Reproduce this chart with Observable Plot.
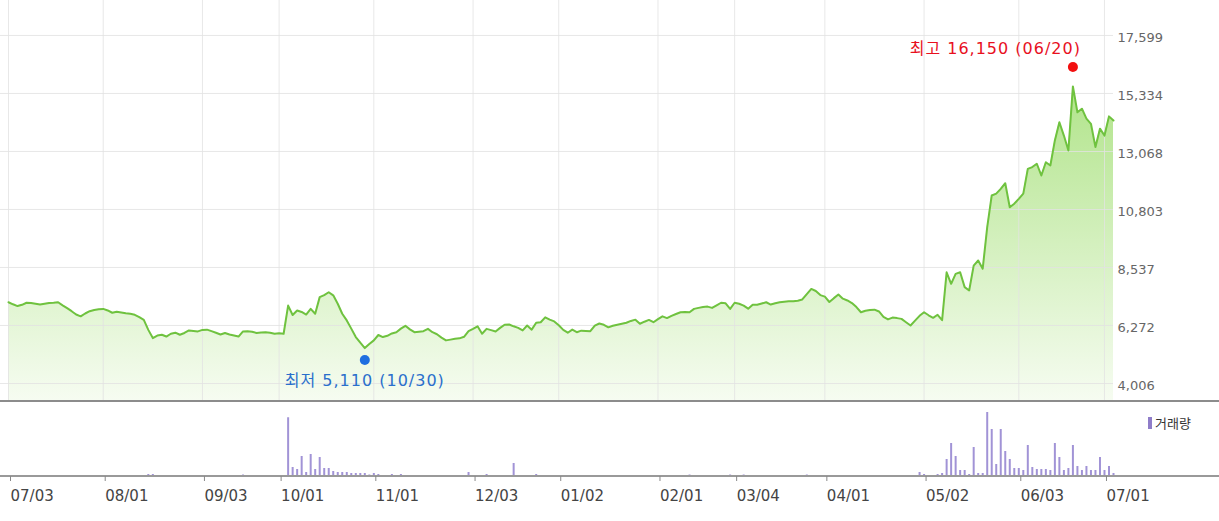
<!DOCTYPE html>
<html>
<head>
<meta charset="utf-8">
<script src="https://cdn.jsdelivr.net/npm/d3@7"></script>
<script src="https://cdn.jsdelivr.net/npm/@observablehq/plot@0.6"></script>
<style>
  body { margin: 0; background: #fff; }
  #wrap { position: relative; width: 1219px; height: 521px; overflow: hidden; background: #fff; }
  #price { position: absolute; left: 0; top: 0; }
  #vol { position: absolute; left: 0; top: 400px; }
  #legend { position: absolute; left: 1148px; top: 416px; font: 13px "Noto Sans CJK KR", sans-serif; color: #333; line-height: 14px; }
  #legend span { display: inline-block; width: 4px; height: 12px; background: #8f7dc9; vertical-align: -1px; margin-right: 3px; }
  #price g[aria-label="text"] text { letter-spacing: 1px; }
</style>
</head>
<body>
<div id="wrap"><div id="price"></div><div id="vol"></div><div id="legend"><span></span>거래량</div></div>
<script>
// x tick positions (trading-day index) and their labels
const tickIdx = [0, 21, 43, 60, 81, 103, 122, 144, 161, 181, 203, 224, 243];
const tickLabels = ["07/03","08/01","09/03","10/01","11/01","12/03","01/02","02/01","03/04","04/01","05/02","06/03","07/01"];
// y-axis tick values
const yTicks = [4006, 6272, 8537, 10803, 13068, 15334, 17599];

// daily closing prices (one per trading day)
const closes = [
  7180,7100,7030,7080,7160,7150,7120,7090,7120,7150,
  7160,7180,7060,6950,6830,6700,6630,6740,6830,6880,
  6910,6920,6860,6770,6810,6780,6750,6730,6690,6600,
  6490,6100,5780,5880,5910,5840,5950,5990,5910,5980,
  6080,6060,6040,6100,6110,6050,5990,5920,5980,5920,
  5880,5840,6040,6050,6030,5980,6000,6010,5990,5950,
  5970,5950,7050,6680,6860,6800,6700,6920,6730,7380,
  7460,7570,7450,7120,6730,6470,6150,5820,5600,5390,
  5550,5690,5900,5820,5870,5960,6010,6150,6260,6120,
  6010,6030,6050,6140,6010,5930,5800,5690,5720,5750,
  5770,5830,6050,6140,6240,5950,6140,6090,6040,6180,
  6300,6310,6240,6180,6080,6270,6110,6380,6400,6590,
  6500,6430,6280,6100,5990,6110,6010,6070,6060,6050,
  6270,6350,6300,6200,6260,6300,6340,6380,6450,6500,
  6340,6420,6490,6400,6520,6630,6560,6650,6720,6790,
  6800,6790,6920,6960,6990,7010,6960,7060,7160,7140,
  6920,7160,7120,7050,6930,7080,7080,7130,7180,7090,
  7140,7180,7200,7220,7220,7240,7290,7500,7700,7620,
  7460,7400,7190,7340,7480,7320,7250,7150,6990,6790,
  6850,6880,6890,6820,6610,6510,6580,6560,6530,6400,
  6270,6460,6650,6790,6670,6570,6690,6480,8350,7900,
  8290,8350,7770,7640,8610,8810,8490,10110,11350,11420,
  11610,11830,10890,11030,11220,11420,12390,12460,12590,12130,
  12650,12520,13500,14210,13690,13110,15610,14600,14740,14350,
  14150,13240,13960,13690,14440,14280
];

// daily volume (thousand shares)
const volumes = [
  0,0,0,0,0,0,0,0,0,0,
  0,0,0,0,0,0,0,0,0,0,
  0,0,0,0,0,0,0,0,0,0,
  0,40,40,0,0,0,0,0,0,0,
  0,0,0,0,0,0,0,0,0,0,
  0,0,30,0,0,0,0,0,0,0,
  0,0,1175,180,140,400,80,440,140,380,
  160,160,100,80,80,80,60,60,60,60,
  30,60,40,0,0,40,0,40,0,0,
  0,0,0,0,0,0,0,0,0,0,
  0,0,80,0,0,0,40,0,0,0,
  0,0,260,0,0,0,0,40,0,0,
  0,0,0,0,0,0,0,0,0,0,
  0,0,0,0,0,0,0,0,0,0,
  0,0,0,0,0,0,0,0,0,0,
  0,30,0,0,0,0,0,0,0,0,
  30,0,0,30,0,0,0,0,0,0,
  0,0,0,0,0,0,0,30,0,0,
  0,0,0,0,0,0,0,0,0,0,
  0,0,0,0,0,0,0,0,0,0,
  0,0,80,40,0,0,40,60,340,660,
  400,120,120,40,580,60,60,1280,940,240,
  940,500,340,160,160,120,620,180,140,140,
  140,120,660,380,120,160,620,200,120,200,
  120,120,380,120,200,60
];

// extremes
const highPt = [{i: 236, v: 16150, label: "최고 16,150 (06/20)"}];
const lowPt  = [{i: 79,  v: 5110,  label: "최저 5,110 (10/30)"}];

const priceData = closes.map((v, i) => ({i, v}));
const volData = volumes.map((vol, i) => ({i, vol}));

const X_DOMAIN = [-1.774, 245];
const Y_DOMAIN = [3342, 18966];
const NS = "http://www.w3.org/2000/svg";

const gradientDefs = () => {
  const defs = document.createElementNS(NS, "defs");
  defs.innerHTML = `<linearGradient id="pg" gradientUnits="userSpaceOnUse" x1="0" y1="35" x2="0" y2="400">
    <stop offset="0" stop-color="#a6e07a"/><stop offset="1" stop-color="#f6fcf1"/></linearGradient>`;
  return defs;
};

const fontStack = "'DejaVu Sans', 'Noto Sans CJK KR', sans-serif";

const priceChart = Plot.plot({
  width: 1219, height: 400,
  marginLeft: 0, marginRight: 106, marginTop: 0, marginBottom: 0,
  x: {domain: X_DOMAIN, axis: null},
  y: {domain: Y_DOMAIN, axis: null},
  style: {fontFamily: fontStack, fontSize: "13px", color: "#666", background: "transparent", overflow: "visible"},
  marks: [
    gradientDefs,
    Plot.areaY(priceData, {x: "i", y1: Y_DOMAIN[0], y2: "v", fill: "url(#pg)"}),
    Plot.ruleY(yTicks, {stroke: "#e2e2e2", strokeOpacity: 0.8}),
    Plot.ruleX(tickIdx, {stroke: "#e2e2e2", strokeOpacity: 0.8}),
    Plot.lineY(priceData, {x: "i", y: "v", stroke: "#6fc23f", strokeWidth: 2}),
    Plot.axisY(yTicks, {anchor: "right", label: null, tickSize: 0, tickPadding: 4, tickFormat: d3.format(","), fontSize: 13, fill: "#666", dy: 2}),
    Plot.dot(highPt, {x: "i", y: "v", dy: -5.6, r: 5, fill: "#f20f0f", stroke: "none"}),
    Plot.text(highPt, {x: "i", y: "v", text: "label", dy: -24, dx: 8, textAnchor: "end", fill: "#e8101e", fontSize: 16}),
    Plot.dot(lowPt, {x: "i", y: "v", dy: 4.8, r: 5, fill: "#1e6ee0", stroke: "none"}),
    Plot.text(lowPt, {x: "i", y: "v", text: "label", dy: 26, textAnchor: "middle", fill: "#2a6fcc", fontSize: 16})
  ]
});
document.getElementById("price").appendChild(priceChart);

const fullWidthLines = (index, scales, values, dims) => {
  const g = document.createElementNS(NS, "g");
  const yb = scales.y(0);
  g.innerHTML = `<line x1="0" x2="${dims.width}" y1="1" y2="1" stroke="#8c8c8c" stroke-width="2"/>
    <line x1="0" x2="${dims.width}" y1="${yb}" y2="${yb}" stroke="#999" stroke-width="2"/>`;
  return g;
};

const volChart = Plot.plot({
  width: 1219, height: 121,
  marginLeft: 0, marginRight: 106, marginTop: 3, marginBottom: 45,
  x: {domain: X_DOMAIN, axis: null},
  y: {domain: [0, 1460], axis: null},
  style: {fontFamily: fontStack, fontSize: "15px", color: "#888", background: "transparent", overflow: "visible"},
  marks: [
    Plot.ruleX(volData.filter(d => d.vol > 0), {x: "i", y1: 0, y2: "vol", stroke: "#a193d6", strokeWidth: 2}),
    fullWidthLines,
    Plot.axisX(tickIdx, {anchor: "bottom", label: null, tickSize: 5, tickPadding: 9, tickFormat: d => tickLabels[tickIdx.indexOf(d)], textAnchor: "start", dx: 2, fontSize: 15, fill: "#444", stroke: "#888"})
  ]
});
document.getElementById("vol").appendChild(volChart);
</script>
</body>
</html>
